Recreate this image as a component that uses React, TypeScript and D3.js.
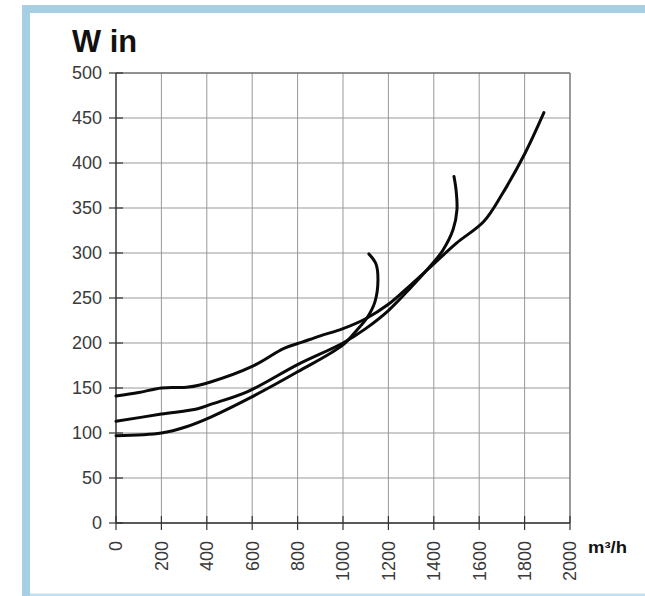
import React from "react";
import * as d3 from "d3";

const xTicks = [0, 200, 400, 600, 800, 1000, 1200, 1400, 1600, 1800, 2000];
const yTicks = [0, 50, 100, 150, 200, 250, 300, 350, 400, 450, 500];

const curveA: [number, number][] = [
  [0, 141], [100, 145], [200, 150], [320, 151], [420, 157], [600, 174], [740, 194],
  [820, 201], [900, 208], [1000, 216], [1100, 227], [1200, 243], [1300, 265],
  [1400, 288], [1500, 311], [1620, 335], [1700, 365], [1800, 410], [1885, 456],
];
const curveB: [number, number][] = [
  [0, 113], [200, 121], [360, 127], [420, 132], [580, 146], [800, 176], [1000, 200],
  [1100, 216], [1200, 236], [1300, 262], [1400, 290], [1440, 303], [1485, 326],
  [1502, 348], [1498, 370], [1489, 385],
];
const curveC: [number, number][] = [
  [0, 97], [200, 100], [310, 107], [420, 118], [590, 139], [800, 168], [1000, 198],
  [1060, 214], [1106, 228], [1141, 246], [1154, 270], [1145, 288], [1114, 299],
];
const series = [curveA, curveB, curveC];

export default function App() {
  const x = d3.scaleLinear().domain([0, 2000]).range([116, 570]);
  const y = d3.scaleLinear().domain([0, 500]).range([523, 73]);
  const line = d3
    .line<[number, number]>()
    .x((d) => x(d[0]))
    .y((d) => y(d[1]))
    .curve(d3.curveCatmullRom.alpha(0.5));
  const font = "'Liberation Sans', Arial, Helvetica, sans-serif";
  return (
    <svg
      width={645}
      height={596}
      style={{ position: "absolute", left: 0, top: 0, background: "#fff" }}
    >
      {/* frame */}
      <rect x={22} y={5} width={623} height={8} fill="#a6cfe3" />
      <rect x={22} y={5} width={8} height={591} fill="#a6cfe3" />
      <rect x={30} y={593.5} width={615} height={2.5} fill="#c4e0ee" />

      {/* title */}
      <text
        x={72}
        y={52}
        fontFamily={font}
        fontWeight="bold"
        fontSize={31}
        fill="#111"
        textLength={65}
        lengthAdjust="spacingAndGlyphs"
      >
        W in
      </text>

      {/* grid */}
      {xTicks.map((t) => (
        <line key={"gx" + t} x1={x(t)} x2={x(t)} y1={y(500)} y2={y(0)} stroke="#999" strokeWidth={1} />
      ))}
      {yTicks.map((t) => (
        <line key={"gy" + t} x1={x(0)} x2={x(2000)} y1={y(t)} y2={y(t)} stroke="#999" strokeWidth={1} />
      ))}
      {/* frame of plot */}
      <line x1={x(0)} x2={x(2000)} y1={y(500)} y2={y(500)} stroke="#555" strokeWidth={1.2} />
      <line x1={x(2000)} x2={x(2000)} y1={y(500)} y2={y(0)} stroke="#777" strokeWidth={1.2} />
      {/* axes */}
      <line x1={x(0)} x2={x(2000)} y1={y(0)} y2={y(0)} stroke="#333" strokeWidth={1.3} />
      <line x1={x(0)} x2={x(0)} y1={y(500)} y2={y(0)} stroke="#333" strokeWidth={1.3} />
      {yTicks.map((t) => (
        <g key={"ty" + t}>
          <line x1={x(0) - 7} x2={x(0) + 7} y1={y(t)} y2={y(t)} stroke="#333" strokeWidth={1.2} />
          <text
            x={102}
            y={y(t)}
            dy="0.35em"
            textAnchor="end"
            fontFamily={font}
            fontSize={18}
            fill="#3a3a3a"
          >
            {t}
          </text>
        </g>
      ))}
      {xTicks.map((t) => (
        <g key={"tx" + t}>
          <line x1={x(t)} x2={x(t)} y1={y(0) - 7} y2={y(0) + 7} stroke="#333" strokeWidth={1.2} />
          <text
            transform={`translate(${x(t)},541) rotate(-90)`}
            dy="0.35em"
            textAnchor="end"
            fontFamily={font}
            fontSize={18}
            fill="#3a3a3a"
          >
            {t}
          </text>
        </g>
      ))}
      <text
        x={588}
        y={553}
        fontFamily={font}
        fontWeight="bold"
        fontSize={16}
        fill="#111"
        textLength={39}
        lengthAdjust="spacingAndGlyphs"
      >
        m³/h
      </text>

      {/* curves */}
      {series.map((s, i) => (
        <path
          key={"s" + i}
          d={line(s) || ""}
          fill="none"
          stroke="#0a0a0a"
          strokeWidth={3}
          strokeLinecap="round"
          strokeLinejoin="round"
        />
      ))}
    </svg>
  );
}
